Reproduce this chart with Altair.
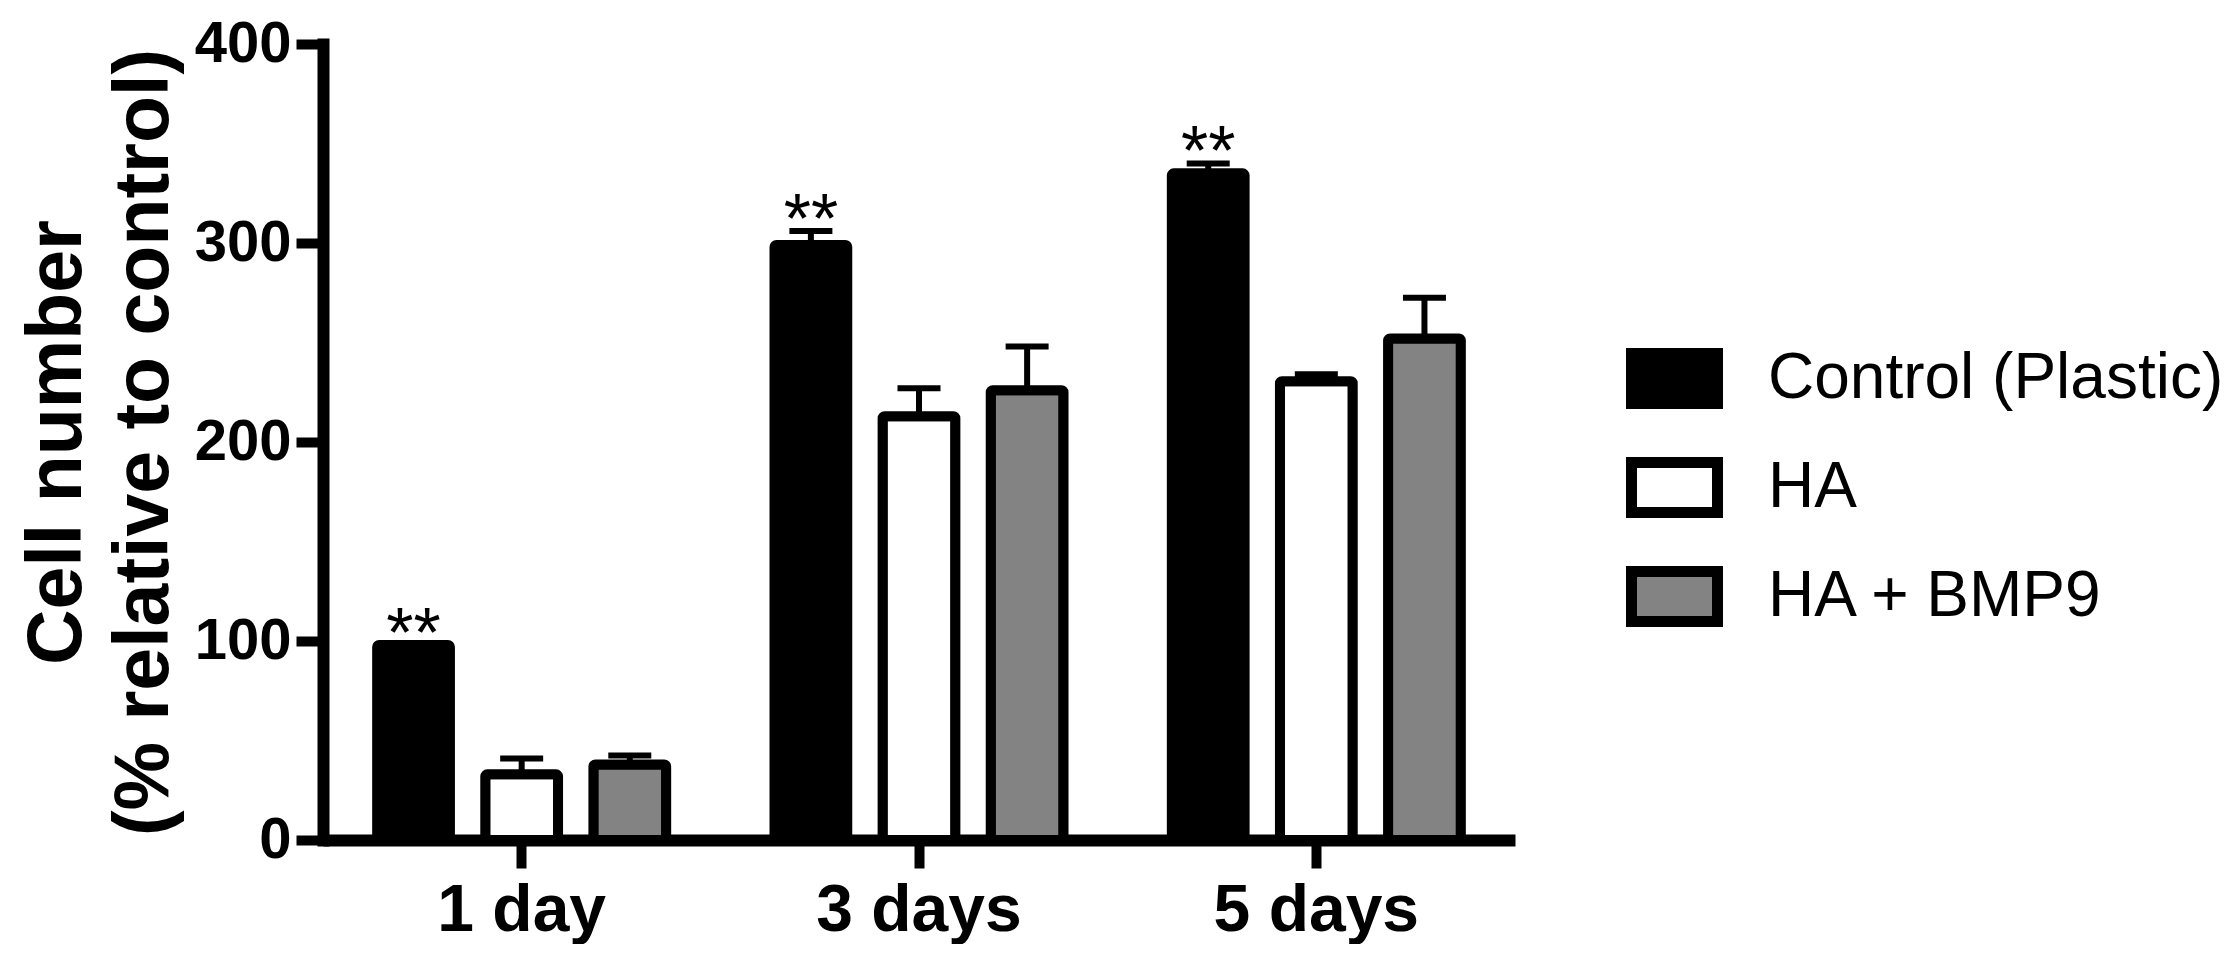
import altair as alt
import pandas as pd

groups = ["1 day", "3 days", "5 days"]
series = ["Control (Plastic)", "HA", "HA + BMP9"]
colors = ["#000000", "#ffffff", "#838383"]

control = [98, 299, 335]
control_err = [0, 7, 5]
ha = [33, 213, 230.5]
ha_err = [8, 14, 3.5]
bmp = [38, 226, 252]
bmp_err = [4.5, 22, 20.5]
stars = ["**", "**", "**"]

rows = []
for i, g in enumerate(groups):
    for s, vals, errs in ((series[0], control, control_err), (series[1], ha, ha_err), (series[2], bmp, bmp_err)):
        rows.append({
            "group": g,
            "series": s,
            "value": vals[i],
            "top": vals[i] + errs[i],
            "star": stars[i] if s == series[0] else "",
        })
df = pd.DataFrame(rows)

FONT = "Liberation Sans"

x_enc = alt.X(
    "group:N",
    sort=groups,
    scale=alt.Scale(domain=groups, paddingInner=0.1836, paddingOuter=0.0918),
    axis=alt.Axis(
        title=None,
        labelAngle=0,
        labelFont=FONT,
        labelFontSize=66,
        labelFontWeight="bold",
        labelColor="black",
        labelPadding=10,
        labelLimit=0,
        tickSize=28,
        tickWidth=10,
        tickColor="black",
        domainWidth=12,
        domainColor="black",
        domainCap="butt",
    ),
)
xoff_enc = alt.XOffset(
    "series:N",
    sort=series,
    scale=alt.Scale(domain=series, paddingInner=0.327, paddingOuter=0.1636),
)
y_scale = alt.Scale(domain=[0, 400], nice=False)

base = alt.Chart(df)

bars = base.mark_bar(stroke="black", strokeWidth=10, cornerRadius=2).encode(
    x=x_enc,
    xOffset=xoff_enc,
    y=alt.Y(
        "value:Q",
        scale=y_scale,
        axis=alt.Axis(
            title=["Cell number", "(% relative to control)"],
            titleFont=FONT,
            titleFontSize=77,
            titleFontWeight="bold",
            titleColor="black",
            titleLineHeight=87,
            titlePadding=11,
            values=[0, 100, 200, 300, 400],
            labelFont=FONT,
            labelFontSize=58,
            labelFontWeight="bold",
            labelColor="black",
            labelPadding=5,
            tickSize=27,
            tickWidth=10,
            tickColor="black",
            domainWidth=12,
            domainColor="black",
            domainCap="square",
            grid=False,
        ),
    ),
    fill=alt.Fill(
        "series:N",
        sort=series,
        scale=alt.Scale(domain=series, range=colors),
        legend=alt.Legend(
            title=None,
            orient="none",
            legendX=1303,
            legendY=286,
            padding=0,
            symbolType="M-1,-0.581H1V0.581H-1Z",
            symbolSize=7396,
            symbolStrokeWidth=11,
            symbolStrokeColor="black",
            symbolOpacity=1,
            labelFont=FONT,
            labelFontSize=64,
            labelColor="black",
            labelOffset=45,
            labelLimit=0,
            rowPadding=13,
        ),
    ),
)

err_rule = base.mark_rule(color="black", strokeWidth=6).encode(
    x=alt.X("group:N", sort=groups),
    xOffset=alt.XOffset("series:N", sort=series),
    y=alt.Y("value:Q", scale=y_scale),
    y2="top:Q",
)

err_cap = base.mark_tick(color="black", thickness=6, size=43, opacity=1).encode(
    x=alt.X("group:N", sort=groups),
    xOffset=alt.XOffset("series:N", sort=series),
    y=alt.Y("top:Q", scale=y_scale),
)

star_text = base.transform_filter(alt.datum.star != "").mark_text(
    font=FONT, fontSize=70, color="black", baseline="alphabetic", dy=12
).encode(
    x=alt.X("group:N", sort=groups),
    xOffset=alt.XOffset("series:N", sort=series),
    y=alt.Y("top:Q", scale=y_scale),
    text="star:N",
)

chart = (
    alt.layer(bars, err_rule, err_cap, star_text)
    .properties(
        width=1192,
        height=796,
        autosize=alt.AutoSizeParams(type="none"),
        padding={"left": 315, "top": 36, "right": 717, "bottom": 104},
    )
    .configure_view(strokeWidth=0)
)

chart.save("out.html", embed_options={"renderer": "svg", "actions": False})
